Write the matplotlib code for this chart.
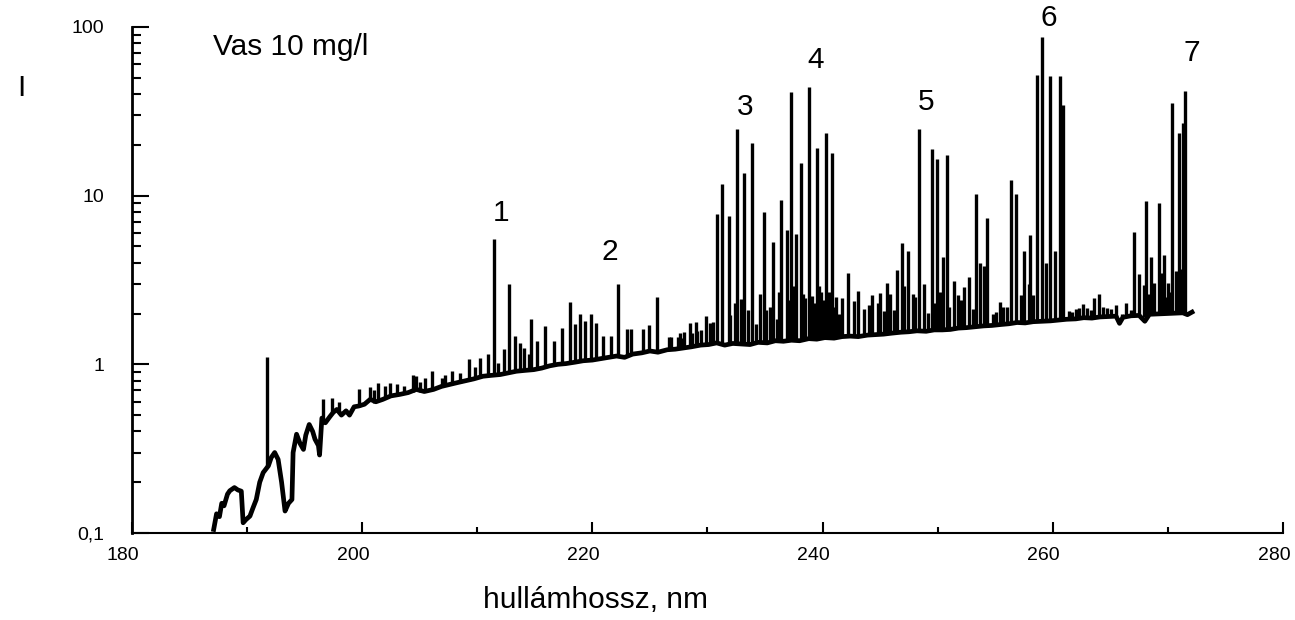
import numpy as np
import matplotlib
matplotlib.use("Agg")
import matplotlib.pyplot as plt
from matplotlib.ticker import LogLocator, NullFormatter, MultipleLocator
from matplotlib.transforms import ScaledTranslation

plt.rcParams['font.family'] = ['Liberation Sans', 'DejaVu Sans']

# Alapvonal (háttér) - hullámhossz (nm) és intenzitás
base_wl = [187.1, 187.35, 187.6, 187.8, 188.0, 188.3, 188.5, 188.9, 189.2, 189.5,
           189.66, 189.9, 190.25, 190.5, 190.8, 191.1, 191.4, 191.85, 192.1, 192.4,
           192.7, 193.0, 193.3, 193.6, 193.9, 194.0, 194.3, 194.6, 194.9, 195.1,
           195.4, 195.7, 195.9, 196.2, 196.3, 196.5, 196.8, 197.2, 197.5, 197.8,
           198.2, 198.6, 198.9, 199.3, 199.7, 200.2, 200.7, 201.2, 201.8, 202.5,
           203.3, 204.0, 204.7, 205.4, 206.2, 206.9, 207.6, 208.3, 209.0, 209.7,
           210.5, 211.2, 212.0, 212.7, 213.4, 214.1, 214.9, 215.6, 216.3, 217.0,
           217.7, 218.5, 219.2, 220.0, 220.7, 221.4, 222.1, 222.8, 223.5, 224.3,
           225.0, 225.7, 226.5, 227.2, 227.9, 228.6, 229.4, 230.1, 230.8, 231.5,
           232.2, 233.0, 233.7, 234.4, 235.2, 235.9, 236.6, 237.3, 238.0, 238.8,
           239.5, 240.2, 241.0, 241.7, 242.4, 243.1, 243.9, 244.6, 245.3, 246.0,
           246.8, 247.5, 248.2, 249.0, 249.7, 250.4, 251.1, 251.8, 252.5, 253.3,
           254.0, 254.7, 255.4, 256.2, 256.9, 257.6, 258.3, 259.1, 259.8, 260.5,
           261.2, 262.0, 262.7, 263.4, 264.1, 264.8, 265.5, 265.8, 266.1, 266.8,
           267.5, 268.0, 268.4, 269.1, 269.8, 270.5, 271.3, 271.7, 272.1]
base_i = [0.105, 0.13, 0.125, 0.15, 0.145, 0.17, 0.178, 0.186, 0.18, 0.177,
          0.115, 0.12, 0.126, 0.14, 0.158, 0.20, 0.228, 0.25, 0.28, 0.30,
          0.273, 0.20, 0.135, 0.15, 0.158, 0.30, 0.385, 0.34, 0.313, 0.38,
          0.44, 0.40, 0.36, 0.33, 0.29, 0.48, 0.45, 0.49, 0.52, 0.54,
          0.50, 0.53, 0.50, 0.56, 0.566, 0.58, 0.62, 0.60, 0.62, 0.65,
          0.664, 0.68, 0.71, 0.69, 0.71, 0.74, 0.76, 0.78, 0.80, 0.82,
          0.85, 0.86, 0.87, 0.89, 0.91, 0.92, 0.93, 0.95, 0.98, 1.0,
          1.01, 1.03, 1.05, 1.06, 1.08, 1.10, 1.12, 1.10, 1.15, 1.17,
          1.20, 1.18, 1.22, 1.23, 1.25, 1.27, 1.30, 1.31, 1.34, 1.30,
          1.33, 1.32, 1.31, 1.35, 1.34, 1.38, 1.37, 1.39, 1.38, 1.42,
          1.41, 1.44, 1.43, 1.46, 1.47, 1.46, 1.49, 1.50, 1.51, 1.53,
          1.55, 1.56, 1.58, 1.57, 1.60, 1.60, 1.61, 1.64, 1.65, 1.67,
          1.69, 1.70, 1.72, 1.74, 1.77, 1.76, 1.79, 1.80, 1.81, 1.83,
          1.85, 1.86, 1.89, 1.88, 1.91, 1.92, 1.93, 1.75, 1.90, 1.94,
          1.95, 1.80, 1.98, 1.99, 2.00, 2.01, 2.02, 1.97, 2.04]

# Emissziós vonalak: hullámhossz, csúcs és talp intenzitás
peak_wl = [191.7, 196.6, 197.4, 198.0, 199.7, 200.7, 201.4, 202.4, 203.6, 204.4,
           204.7, 205.5, 206.1, 206.9, 207.8, 208.5, 209.3, 210.2, 210.9, 211.45,
           212.3, 212.8, 213.3, 213.7, 214.1, 214.7, 215.2, 215.9, 216.7, 217.4,
           218.1, 218.5, 218.9, 219.4, 219.9, 220.3, 220.9, 221.6, 222.2, 223.0,
           223.4, 224.4, 224.9, 225.6, 226.7, 227.6, 228.0, 228.5, 229.0, 229.9,
           230.5, 230.8, 231.3, 231.9, 232.6, 232.9, 233.2, 233.9, 234.2, 234.9,
           235.4, 235.7, 236.0, 236.4, 236.9, 237.3, 237.7, 238.1, 238.5, 238.8,
           239.1, 239.5, 239.9, 240.3, 240.8, 241.2, 241.65, 242.2, 242.7, 243.1,
           243.6, 244.0, 244.3, 245.0, 245.3, 245.6, 245.9, 246.5, 246.9, 247.4,
           247.9, 248.4, 248.8, 249.2, 249.5, 249.9, 250.5, 250.8, 251.4, 251.8,
           252.3, 252.7, 253.1, 253.3, 253.7, 254.0, 254.3, 254.8, 255.4, 256.0,
           256.4, 256.8, 257.2, 257.5, 258.0, 258.3, 258.6, 259.1, 259.4, 259.8,
           260.2, 260.6, 260.9, 261.4, 262.0, 262.6, 263.0, 263.6, 264.0, 264.7,
           265.1, 265.5, 266.4, 267.1, 267.5, 267.9, 268.1, 268.5, 268.8, 269.2,
           269.5, 269.7, 270.0, 270.4, 270.7, 271.0, 271.1, 271.3, 271.5,
           # apróbb vonalak a háttérben
           226.8, 227.4, 227.8, 228.7, 229.1, 229.4, 230.2, 232.0, 232.4, 233.5,
           234.6, 235.1, 236.2, 237.0, 237.5, 238.3, 239.3, 239.7, 240.0, 240.6,
           241.0, 241.4, 244.8, 246.2, 247.1, 248.0, 249.7, 250.2, 251.0, 252.0,
           255.1, 255.7, 257.9, 261.7, 262.3, 263.3, 264.4, 266.0, 266.8, 268.3,
           269.9, 270.2, 201.0, 202.0, 203.0, 205.0, 207.2, 209.8, 211.8, 214.5]
peak_top = [1.1, 0.62, 0.63, 0.60, 0.71, 0.73, 0.78, 0.78, 0.74, 0.87,
            0.85, 0.83, 0.91, 0.83, 0.91, 0.89, 1.07, 1.09, 1.15, 5.5,
            1.23, 3.0, 1.47, 1.34, 1.25, 1.85, 1.37, 1.69, 1.37, 1.65,
            2.34, 1.73, 2.0, 1.81, 2.0, 1.75, 1.47, 1.47, 3.0, 1.61,
            1.61, 1.63, 1.70, 2.52, 1.46, 1.54, 1.55, 1.75, 1.78, 1.93,
            1.78, 7.8, 11.8, 7.6, 24.7, 2.43, 13.7, 20.6, 1.73, 8.0,
            2.2, 5.3, 1.85, 9.4, 6.25, 41.0, 5.9, 15.7, 2.48, 44.0,
            2.54, 19.1, 2.68, 23.6, 18.0, 2.5, 2.48, 3.46, 2.37, 2.72,
            2.12, 2.24, 2.56, 2.63, 2.07, 3.05, 2.6, 3.62, 5.26, 4.7,
            2.6, 24.7, 2.98, 2.02, 18.8, 16.6, 4.35, 17.4, 3.12, 2.56,
            2.89, 3.29, 2.12, 10.2, 4.0, 3.83, 7.33, 1.98, 2.34, 2.2,
            12.4, 10.2, 2.56, 4.7, 5.84, 2.56, 51.6, 87.0, 4.0, 51.2,
            4.7, 51.2, 34.3, 2.07, 2.12, 2.29, 2.15, 2.48, 2.6, 2.17,
            2.12, 2.24, 2.32, 6.11, 3.42, 2.94, 9.29, 4.33, 3.05, 9.0,
            3.46, 4.44, 3.05, 35.6, 3.57, 23.4, 3.66, 27.1, 41.7,
            1.45, 1.46, 1.43, 1.53, 1.57, 1.6, 1.75, 1.95, 2.3, 2.1,
            2.6, 2.1, 2.7, 2.4, 2.9, 2.6, 2.3, 2.9, 2.4, 2.7,
            2.2, 2.0, 2.3, 2.1, 2.9, 2.5, 2.3, 2.7, 2.2, 2.4,
            2.05, 2.2, 3.0, 2.05, 2.15, 2.1, 2.2, 2.0, 2.1, 2.6,
            2.5, 2.7, 0.7, 0.74, 0.76, 0.79, 0.86, 0.97, 1.02, 1.15]
peak_base = [0.25, 0.47, 0.52, 0.52, 0.56, 0.61, 0.61, 0.64, 0.67, 0.69,
             0.70, 0.69, 0.71, 0.74, 0.76, 0.78, 0.80, 0.84, 0.85, 0.86,
             0.88, 0.89, 0.90, 0.91, 0.92, 0.93, 0.94, 0.96, 0.99, 1.0,
             1.02, 1.03, 1.04, 1.05, 1.06, 1.07, 1.08, 1.10, 1.11, 1.13,
             1.14, 1.17, 1.19, 1.19, 1.22, 1.24, 1.25, 1.27, 1.28, 1.30,
             1.32, 1.33, 1.31, 1.32, 1.33, 1.32, 1.32, 1.32, 1.34, 1.34,
             1.35, 1.36, 1.37, 1.37, 1.38, 1.39, 1.38, 1.39, 1.41, 1.42,
             1.41, 1.41, 1.43, 1.44, 1.43, 1.44, 1.46, 1.47, 1.46, 1.46,
             1.48, 1.49, 1.50, 1.50, 1.51, 1.52, 1.53, 1.54, 1.55, 1.56,
             1.57, 1.58, 1.57, 1.58, 1.59, 1.60, 1.60, 1.61, 1.62, 1.64,
             1.65, 1.66, 1.67, 1.67, 1.68, 1.69, 1.70, 1.70, 1.72, 1.73,
             1.75, 1.76, 1.76, 1.77, 1.78, 1.79, 1.79, 1.80, 1.80, 1.81,
             1.82, 1.83, 1.84, 1.85, 1.86, 1.88, 1.88, 1.89, 1.90, 1.92,
             1.92, 1.93, 1.93, 1.94, 1.95, 1.90, 1.95, 1.98, 1.98, 1.99,
             1.99, 2.00, 2.00, 2.01, 2.01, 2.02, 2.02, 2.02, 2.00,
             1.22, 1.23, 1.25, 1.27, 1.28, 1.30, 1.31, 1.32, 1.33, 1.32,
             1.34, 1.34, 1.37, 1.38, 1.39, 1.39, 1.41, 1.41, 1.43, 1.44,
             1.43, 1.45, 1.50, 1.53, 1.55, 1.57, 1.59, 1.60, 1.61, 1.64,
             1.71, 1.73, 1.78, 1.85, 1.86, 1.88, 1.90, 1.90, 1.94, 1.97,
             2.0, 2.0, 0.59, 0.63, 0.66, 0.69, 0.75, 0.82, 0.87, 0.93]

# Vonalak sorszámai
label_txt = ["1", "2", "3", "4", "5", "6", "7"]
label_wl = [212.1, 221.5, 233.3, 239.4, 249.0, 259.7, 272.1]
label_i = [7.85, 4.64, 33.6, 63.7, 36.1, 112.5, 69.7]

yticks = [0.1, 1, 10, 100]
ytick_labels = ["0,1", "1", "10", "100"]
xticks = [180, 200, 220, 240, 260, 280]

fig = plt.figure(figsize=(12.95, 6.2), dpi=100)
ax = fig.add_axes([0.1019, 0.1403, 0.8888, 0.8162])

ax.plot(base_wl, base_i, color="black", linewidth=3.4, solid_joinstyle="round")
ax.vlines(peak_wl, peak_base, peak_top, color="black", linewidth=2.4)

for t, x, y in zip(label_txt, label_wl, label_i):
    ax.text(x, y, t, fontsize=21.5, ha="center", va="center", clip_on=False)

ax.set_yscale("log")
ax.set_xlim(180, 280)
ax.set_ylim(0.1, 100)
ax.set_yticks(yticks)
ax.set_yticklabels(ytick_labels)
ax.yaxis.set_minor_locator(LogLocator(base=10, subs=np.arange(2, 10)))
ax.yaxis.set_minor_formatter(NullFormatter())
ax.set_xticks(xticks)
ax.xaxis.set_minor_locator(MultipleLocator(10))

for s in ["top", "right"]:
    ax.spines[s].set_visible(False)
ax.spines["left"].set_linewidth(2.0)
ax.spines["bottom"].set_linewidth(1.5)

ax.tick_params(axis="y", which="major", direction="in", length=12, width=1.5,
               labelsize=14, pad=20)
ax.tick_params(axis="y", which="minor", direction="in", length=6.5, width=1.5)
ax.tick_params(axis="x", which="major", direction="in", length=8, width=1.5,
               labelsize=14, pad=10)
ax.tick_params(axis="x", which="minor", direction="in", length=4, width=1.5)

off = ScaledTranslation(-9 / 100, 0, fig.dpi_scale_trans)
for lab in ax.get_xticklabels():
    lab.set_transform(lab.get_transform() + off)

fig.text(0.1645, 0.9113, "Vas 10 mg/l", fontsize=21.5, ha="left", va="baseline")
fig.text(0.0135, 0.858, "I", fontsize=21.5, ha="left", va="center")
fig.text(0.46, 0.032, "hullámhossz, nm", fontsize=21.5, ha="center", va="center")

fig.savefig("out.png", dpi=100)
